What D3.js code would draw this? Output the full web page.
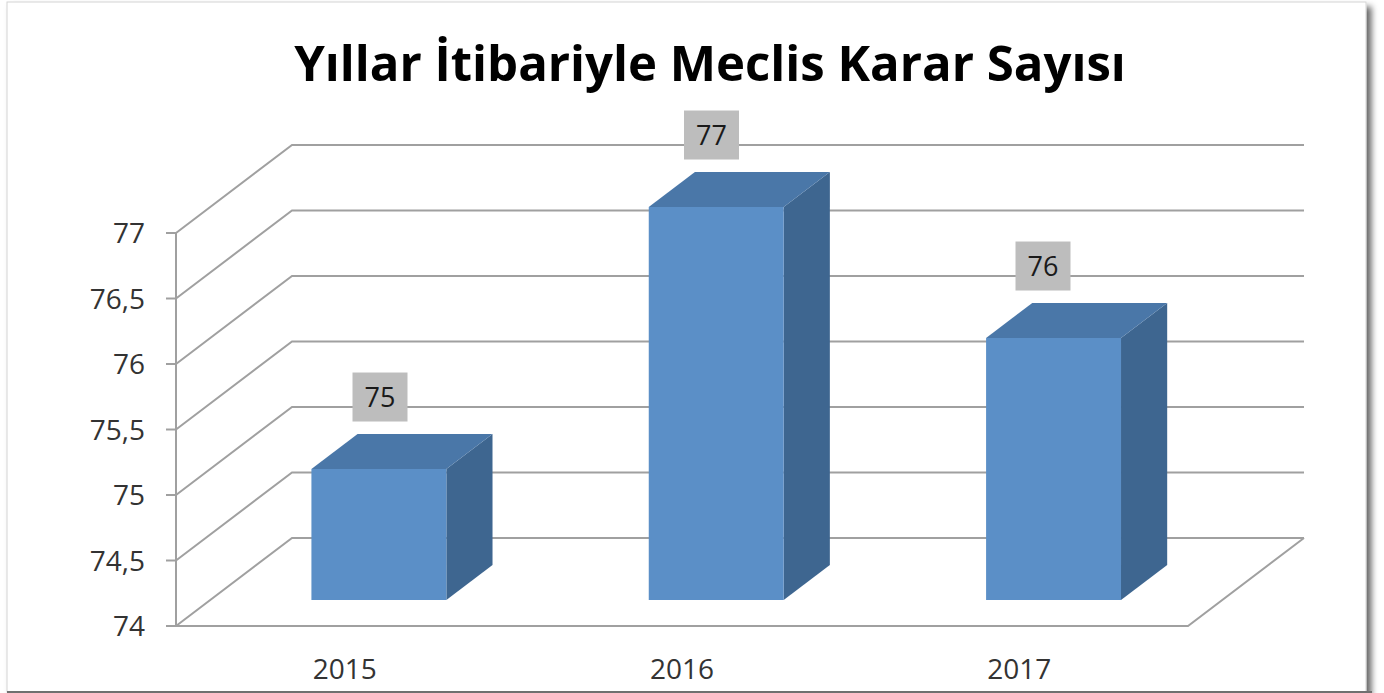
<!DOCTYPE html>
<html>
<head>
<meta charset="utf-8">
<script src="https://cdn.jsdelivr.net/npm/d3@7"></script>
<style>
  html, body { margin: 0; padding: 0; background: #ffffff; }
  svg { display: block; }
</style>
</head>
<body>
<svg id="chart" width="1384" height="693"></svg>
<script>
// ---- data ----
const titleText = "Yıllar İtibariyle Meclis Karar Sayısı";
const categories = ["2015", "2016", "2017"];
const values = [75, 77, 76];
const yTicks = [74, 74.5, 75, 75.5, 76, 76.5, 77];
const yTickLabels = ["74", "74,5", "75", "75,5", "76", "76,5", "77"];
const dataLabels = ["75", "77", "76"];

// ---- layout ----
const W = 1384, H = 693;
const svg = d3.select("#chart");
const font = "'Open Sans', 'DejaVu Sans', sans-serif";

const front = { left: 176, right: 1188, bottom: 626, top: 233 };
const depth = { dx: 116, dy: -88 };     // full depth offset of the 3D box
const barT0 = 0.295, barT1 = 0.693;     // depth fractions of bar front / back

const y = d3.scaleLinear().domain([74, 77]).range([front.bottom, front.top]);
const x = d3.scaleBand().domain(categories).range([front.left, front.right]).paddingInner(0).paddingOuter(0);
const barW = x.bandwidth() * 0.4;
const labelX = d3.scalePoint().domain(categories).range([380, 1043]);

// project (xFront, yFront, t) into screen
const P = (px, py, t) => [px + depth.dx * t, py + depth.dy * t];

// ---- frame with shadow ----
const defs = svg.append("defs");
const f = defs.append("filter").attr("id", "shadow").attr("x", "-5%").attr("y", "-5%").attr("width", "110%").attr("height", "115%");
f.append("feDropShadow").attr("dx", 5).attr("dy", 5).attr("stdDeviation", 3).attr("flood-color", "#000").attr("flood-opacity", 0.6);

svg.append("rect")
  .attr("x", 7).attr("y", 2).attr("width", 1359).attr("height", 690)
  .attr("fill", "#ffffff").attr("stroke", "#d4d4d4").attr("stroke-width", 1)
  .attr("filter", "url(#shadow)");
svg.append("line").attr("x1", 7).attr("x2", 1372).attr("y1", 692).attr("y2", 692)
  .attr("stroke", "#707070").attr("stroke-width", 2);

// ---- title ----
const title = svg.append("text")
  .attr("x", 710).attr("y", 81)
  .attr("text-anchor", "middle")
  .attr("font-family", font).attr("font-weight", "bold")
  .attr("font-size", 50).attr("fill", "#000")
  .text(titleText);
const tw = title.node().getComputedTextLength();
title.attr("font-size", 50 * 832 / tw);

// ---- walls: gridlines ----
const gridColor = "#a0a0a0";
const grid = svg.append("g").attr("stroke", gridColor).attr("stroke-width", 2).attr("fill", "none");
yTicks.forEach(v => {
  const a = P(front.left, y(v), 0);
  const b = P(front.left, y(v), 1);
  const c = P(front.right, y(v), 1);
  grid.append("path").attr("d", d3.line()([a, b, c]));
});
// floor
{
  const a = P(front.left, y(74), 0);
  const b = P(front.right, y(74), 0);
  const c = P(front.right, y(74), 1);
  grid.append("path").attr("d", d3.line()([a, b, c]));
}
// front vertical axis
grid.append("line").attr("x1", front.left).attr("x2", front.left)
  .attr("y1", y(77)).attr("y2", y(74));

// tick marks and labels
const ticks = svg.append("g");
yTicks.forEach((v, i) => {
  ticks.append("line").attr("x1", front.left - 10).attr("x2", front.left)
    .attr("y1", y(v)).attr("y2", y(v)).attr("stroke", gridColor).attr("stroke-width", 2);
  ticks.append("text").attr("x", front.left - 31).attr("y", y(v))
    .attr("dy", "0.36em").attr("text-anchor", "end")
    .attr("font-family", font).attr("font-size", 28).attr("fill", "#333")
    .text(yTickLabels[i]);
});

// x labels
categories.forEach(c => {
  svg.append("text").attr("x", x(c) + x.bandwidth() / 2).attr("y", 679)
    .attr("text-anchor", "middle")
    .attr("font-family", font).attr("font-size", 28).attr("fill", "#333")
    .text(c);
});

// ---- 3D bars ----
const colFront = "#5b8fc7", colTop = "#4a77a8", colSide = "#3e6690";
const bars = svg.append("g");
const line = d3.line();
categories.forEach((c, i) => {
  const cx = x(c) + x.bandwidth() / 2;
  const xl = cx - barW / 2, xr = cx + barW / 2;
  const yb = y(74), yt = y(values[i]);
  const fbl = P(xl, yb, barT0), fbr = P(xr, yb, barT0), ftr = P(xr, yt, barT0), ftl = P(xl, yt, barT0);
  const bbr = P(xr, yb, barT1), btr = P(xr, yt, barT1), btl = P(xl, yt, barT1);
  // side
  bars.append("path").attr("d", line([fbr, bbr, btr, ftr]) + "Z").attr("fill", colSide);
  // top
  bars.append("path").attr("d", line([ftl, ftr, btr, btl]) + "Z").attr("fill", colTop);
  // front
  bars.append("path").attr("d", line([fbl, fbr, ftr, ftl]) + "Z").attr("fill", colFront);

  // data label
  const ly = btl[1] - 37;
  const lx = labelX(c);
  bars.append("rect").attr("x", lx - 27.5).attr("y", ly - 24.5).attr("width", 55).attr("height", 49)
    .attr("fill", "#bdbdbd");
  bars.append("text").attr("x", lx).attr("y", ly).attr("dy", "0.36em")
    .attr("text-anchor", "middle")
    .attr("font-family", font).attr("font-size", 27).attr("fill", "#1a1a1a")
    .text(dataLabels[i]);
});
</script>
</body>
</html>
